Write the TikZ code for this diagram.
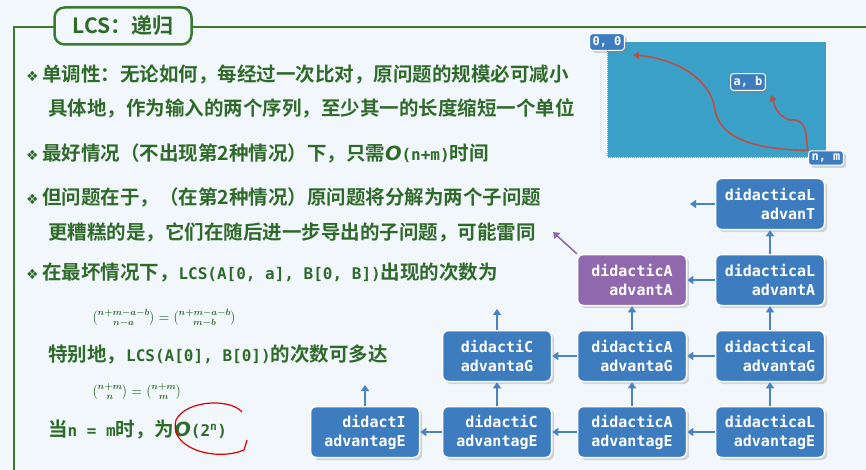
\documentclass[tikz,border=0pt]{standalone}
\usepackage{fontspec}
\usepackage{amsmath}
\setmainfont{Noto Sans CJK SC}[BoldFont={Noto Sans CJK SC Bold}]
\newfontfamily\cjk{Noto Sans CJK SC Bold}
\newfontfamily\mono{DejaVu Sans Mono Bold}
\newfontfamily\dsym{DejaVu Sans}
\newfontfamily\oit{DejaVu Sans}[ItalicFont={DejaVu Sans Bold Oblique}]
\usetikzlibrary{shadows,arrows.meta}
\definecolor{bg}{HTML}{F2F7FC}
\definecolor{tg}{HTML}{2F6A2A}
\definecolor{fr}{HTML}{3C7A32}
\definecolor{nb}{HTML}{3E7CC0}
\definecolor{np}{HTML}{9068AE}
\definecolor{ab}{HTML}{4A82C2}
\definecolor{pan}{HTML}{3BA0C8}
\definecolor{rd}{HTML}{B85045}
\tikzset{
 box/.style={draw=white,line width=1.5pt,fill=nb,rounded corners=6pt,minimum width=109pt,minimum height=51pt,align=right,text=white,font=\mono\fontsize{15}{19}\selectfont,drop shadow={opacity=0.3}},
 pbox/.style={box,fill=np},
 lbl/.style={draw=white,line width=1pt,fill=nb,rounded corners=3pt,text=white,font=\mono\fontsize{12}{13}\selectfont,inner sep=3pt,drop shadow={opacity=0.3}},
 arr/.style={draw=ab,line width=1.6pt,-{Triangle[length=6pt,width=8pt]}},
 txt/.style={anchor=west,text=tg,font=\cjk\fontsize{19.5}{22}\selectfont,inner sep=0pt},
 fml/.style={anchor=west,text=tg,inner sep=0pt,font=\fontsize{13}{15}\selectfont},
 cur/.style={draw=rd,line width=1.6pt,-{Triangle[length=6pt,width=7pt]}}
}
\newcommand{\bul}{{\dsym\fontsize{14}{14}\selectfont ❖}\,}
\newcommand{\mo}[1]{{\mono\fontsize{16}{18}\selectfont #1}}
\newcommand{\bigO}{{\oit\itshape O}}
\begin{document}
\begin{tikzpicture}[x=1pt,y=-1pt]
\useasboundingbox (0,0) rectangle (866,470);
\fill[bg] (0,0) rectangle (866,470);
% frame
\draw[fr,line width=2.5pt] (14,470) -- (14,27) -- (866,27);
\node[draw=fr,line width=2.5pt,fill=bg,rounded corners=10pt,minimum width=137pt,minimum height=37pt,text=tg,font=\cjk\fontsize{21}{22}\selectfont] (title) at (123,26) {LCS：递归};
% text
\node[txt] (t1) at (26,75) {\bul 单调性：无论如何，每经过一次比对，原问题的规模必可减小};
\node[txt] (t2) at (48,108) {具体地，作为输入的两个序列，至少其一的长度缩短一个单位};
\node[txt] (t3) at (26,153) {\bul 最好情况（不出现第2种情况）下，只需\bigO\mo{(n+m)}时间};
\node[txt] (t4) at (26,197) {\bul 但问题在于，（在第2种情况）原问题将分解为两个子问题};
\node[txt] (t5) at (48,232) {更糟糕的是，它们在随后进一步导出的子问题，可能雷同};
\node[txt] (t6) at (26,273) {\bul 在最坏情况下，\mo{LCS(A[0, a], B[0, B])}出现的次数为};
\node[fml] (f1) at (92,318) {$\boldsymbol{\binom{n+m-a-b}{n-a}=\binom{n+m-a-b}{m-b}}$};
\node[txt] (t7) at (48,355) {特别地，\mo{LCS(A[0], B[0])}的次数可多达};
\node[fml] (f2) at (92,392) {$\boldsymbol{\binom{n+m}{n}=\binom{n+m}{m}}$};
\node[txt] (t8) at (48,430) {当\mo{n = m}时，为\bigO\mo{(2\textsuperscript{n})}};
\draw[red!85!black,line width=1.2pt] (242,412) .. controls (230,398) and (186,400) .. (176,420) .. controls (168,448) and (215,462) .. (244,450) -- (247,440);
% panel
\draw[white,line width=1pt,densely dotted,fill=pan] (607,42) rectangle (826,158);
\node[lbl] (p00) at (607,42) {0, 0};
\node[lbl] (pab) at (748,82) {a, b};
\node[lbl] (pnm) at (826,158) {n, m};
\draw[cur] (pnm.north west) .. controls (760,150) and (720,140) .. (715,110) .. controls (710,75) and (670,58) .. (633,55);
\draw[cur] (pnm.north west) .. controls (805,140) and (810,118) .. (790,120) .. controls (775,115) and (775,105) .. (771,95);
% nodes
\node[box] (a4) at (365,432) {didactI\\advantagE};
\node[box] (b4) at (497,432) {didactiC\\advantagE};
\node[box] (c4) at (632,432) {didacticA\\advantagE};
\node[box] (d4) at (770,432) {didacticaL\\advantagE};
\node[box] (b3) at (497,356) {didactiC\\advantaG};
\node[box] (c3) at (632,356) {didacticA\\advantaG};
\node[box] (d3) at (770,356) {didacticaL\\advantaG};
\node[pbox] (c2) at (632,280) {didacticA\\advantA};
\node[box] (d2) at (770,280) {didacticaL\\advantA};
\node[box] (d1) at (770,204) {didacticaL\\advanT};
\coordinate (ea) at (365,385);
\coordinate (eb) at (497,309);
\coordinate (ed) at (690,204);
\coordinate (ec) at (553,232);
% arrows
\draw[arr] (d4) -- (c4); \draw[arr] (c4) -- (b4); \draw[arr] (b4) -- (a4);
\draw[arr] (a4) -- (ea); \draw[arr] (b4) -- (b3); \draw[arr] (c4) -- (c3); \draw[arr] (d4) -- (d3);
\draw[arr] (d3) -- (c3); \draw[arr] (c3) -- (b3);
\draw[arr] (b3) -- (eb); \draw[arr] (c3) -- (c2); \draw[arr] (d3) -- (d2);
\draw[arr] (d2) -- (c2); \draw[arr] (d2) -- (d1); \draw[arr] (d1) -- (ed);
\draw[arr,draw=np] (c2.north west) -- (ec);
\end{tikzpicture}
\end{document}
